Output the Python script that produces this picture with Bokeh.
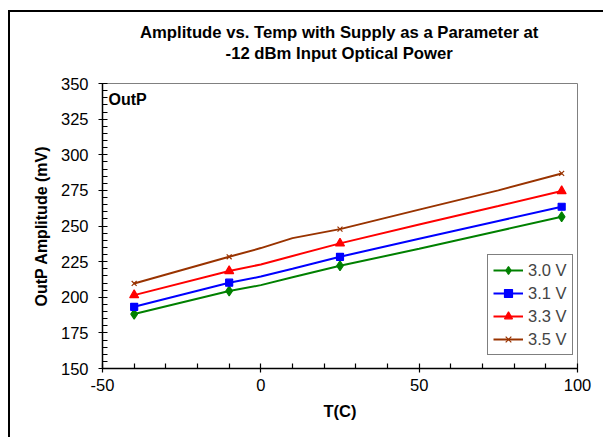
from bokeh.plotting import figure
from bokeh.layouts import column
from bokeh.models import FixedTicker, Legend, LegendItem, Label
from bokeh.embed import file_html
from bokeh.resources import INLINE

# ---- data ----
temps_line = [-40, -10, 0, 10, 25, 50, 75, 95]
temps_mark = [-40, -10, 25, 95]
series_names = ["3.0 V", "3.1 V", "3.3 V", "3.5 V"]
v30_line = [188.2, 204.4, 208.5, 214.0, 222.1, 234.0, 246.5, 256.5]
v31_line = [193.3, 210.2, 214.5, 220.0, 228.4, 241.0, 253.5, 263.5]
v33_line = [201.5, 218.4, 223.0, 229.0, 237.8, 251.0, 264.0, 274.5]
v35_line = [209.7, 228.4, 234.5, 241.5, 247.8, 261.5, 275.0, 286.9]
v30_mark = [188.2, 204.4, 222.1, 256.5]
v31_mark = [193.3, 210.2, 228.4, 263.5]
v33_mark = [201.5, 218.4, 237.8, 274.5]
v35_mark = [209.7, 228.4, 247.8, 286.9]
x_ticks = [-50, 0, 50, 100]
y_ticks = [150, 175, 200, 225, 250, 275, 300, 325, 350]
x_minor = [-40, -30, -20, -10, 10, 20, 30, 40, 60, 70, 80, 90]
y_minor = [v for v in range(150, 351, 5) if v % 25]
title_line1 = "Amplitude vs. Temp with Supply as a Parameter at"
title_line2 = "-12 dBm Input Optical Power"

FONT = "Liberation Sans"
FS = "16.5px"
X_LO, X_HI = -50, 100
Y_LO, Y_HI = 150, 350
OX, OY, BW = 8, 10, 2          # outer chart frame offset / border width
W = 603 - OX - BW              # inner width of the chart area
TH = 50                        # height of the title strip
MH = 437 - OY - BW - TH        # height of the main figure

# ---- title strip ----
t = figure(width=W, height=TH, output_backend="svg", toolbar_location=None,
           x_range=(0, W), y_range=(0, TH), min_border=0,
           x_axis_location=None, y_axis_location=None)
t.outline_line_color = None
t.xgrid.visible = False
t.ygrid.visible = False
FRAME_CX = (102 + 577) / 2 - OX - BW - 34
for txt, yy in ((title_line1, TH - (32 - OY - BW)), (title_line2, TH - (53 - OY - BW))):
    t.add_layout(Label(x=FRAME_CX, y=yy, text=txt, text_align="center",
                       text_baseline="middle", text_font=FONT,
                       text_font_size="16.7px", text_font_style="bold",
                       text_color="black"))

# ---- main chart ----
p_main = figure(width=W, height=MH, output_backend="svg", toolbar_location=None,
                x_range=(X_LO, X_HI), y_range=(Y_LO, Y_HI),
                min_border_left=102 - OX - BW, min_border_right=603 - 577,
                min_border_top=83 - OY - BW - TH, min_border_bottom=437 - 368)
p_main.background_fill_color = "white"
p_main.border_fill_color = "white"
p_main.outline_line_color = "#808080"
p_main.outline_line_width = 1
p_main.xgrid.visible = False
p_main.ygrid.visible = False

for ax in (p_main.xaxis[0], p_main.yaxis[0]):
    ax.axis_line_color = "black"
    ax.axis_line_width = 1.5
    ax.major_tick_line_color = "black"
    ax.minor_tick_line_color = "black"
    ax.major_tick_line_width = 1.2
    ax.minor_tick_line_width = 1.2
    ax.major_tick_in = 5
    ax.major_tick_out = 4
    ax.minor_tick_in = 5
    ax.minor_tick_out = 0
    ax.major_label_text_font = FONT
    ax.major_label_text_font_size = FS
    ax.major_label_text_color = "black"
    ax.axis_label_text_font = FONT
    ax.axis_label_text_font_style = "bold"
    ax.axis_label_text_color = "black"

p_main.xaxis.axis_label_text_font_size = FS
p_main.yaxis.axis_label_text_font_size = "16px"
p_main.xaxis.ticker = FixedTicker(ticks=x_ticks, minor_ticks=x_minor)
p_main.yaxis.ticker = FixedTicker(ticks=y_ticks, minor_ticks=y_minor)
p_main.xaxis.major_label_overrides = {v: str(v) for v in x_ticks}
p_main.xaxis.axis_label = "T(C)"
p_main.yaxis.axis_label = "OutP Amplitude (mV)"
p_main.xaxis.major_label_standoff = 6
p_main.xaxis.axis_label_standoff = 8
p_main.yaxis.major_label_standoff = 10
p_main.yaxis.axis_label_standoff = 8

colors = ["#008000", "#0000FF", "#FF0000", "#993300"]
lines = [v30_line, v31_line, v33_line, v35_line]
marks = [v30_mark, v31_mark, v33_mark, v35_mark]
markers = ["diamond", "square", "triangle", "x"]
sizes = [10, 7, 9, 7]

items = []
for name, c, ly, my, mk, sz in zip(series_names, colors, lines, marks, markers, sizes):
    r1 = p_main.line(temps_line, ly, line_color=c, line_width=2)
    r2 = p_main.scatter(temps_mark, my, marker=mk, size=sz, fill_color=c,
                        line_color=c, line_width=1.2)
    items.append(LegendItem(label=name, renderers=[r1, r2]))

legend = Legend(items=items, location=(385, 13), orientation="vertical",
                border_line_color="black", border_line_width=1,
                background_fill_color="white", background_fill_alpha=1,
                label_text_font=FONT, label_text_font_size=FS,
                glyph_width=30, glyph_height=20, spacing=3, padding=5,
                margin=0, label_standoff=5, label_height=20)
p_main.add_layout(legend)

p_main.add_layout(Label(x=X_LO, y=Y_HI, x_offset=6, y_offset=-7, text="OutP",
                        text_font=FONT, text_font_size="16px", text_font_style="bold",
                        text_color="black", text_baseline="top"))

p = column(t, p_main, spacing=0,
           styles={"margin-left": f"{OX}px", "margin-top": f"{OY}px",
                   "border-left": f"{BW}px solid black",
                   "border-top": f"{BW}px solid black"})

open("out.html", "w").write(file_html(p, INLINE))
